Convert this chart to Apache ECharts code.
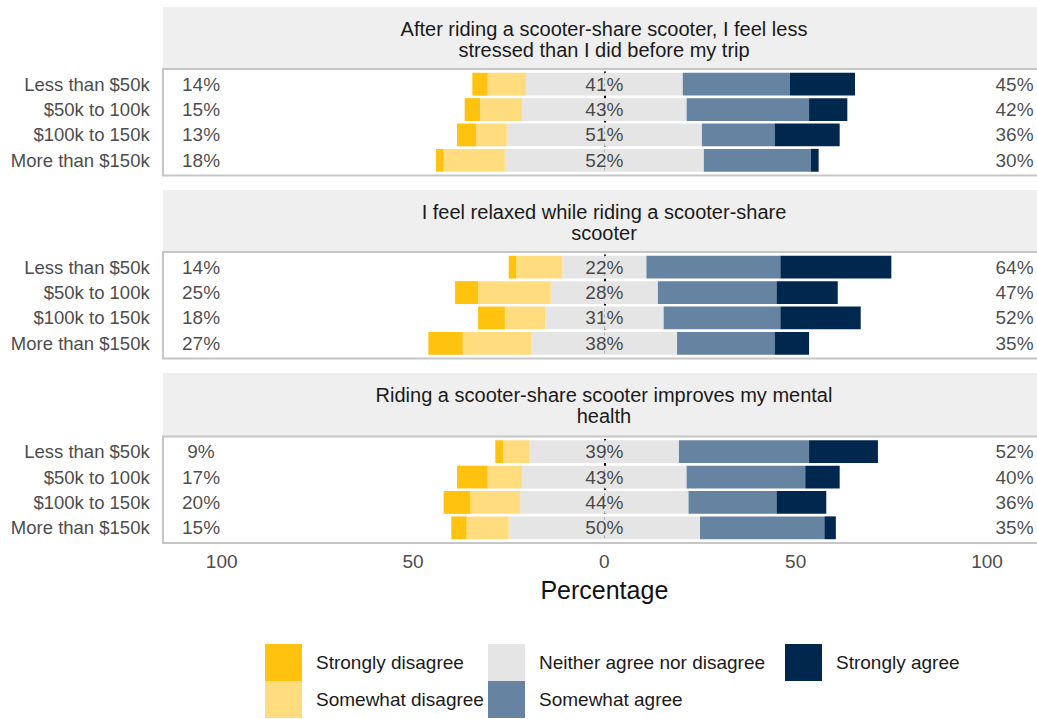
<!DOCTYPE html>
<html>
<head>
<meta charset="utf-8">
<script src="https://cdn.jsdelivr.net/npm/echarts@6/dist/echarts.min.js"></script>
<style>html,body{margin:0;padding:0;background:#fff}#chart{width:1037px;height:719px}</style>
</head>
<body>
<div id="chart"></div>
<script>
const categories = ['Less than $50k', '$50k to 100k', '$100k to 150k', 'More than $150k'];
const statements = [
  'After riding a scooter-share scooter, I feel less\nstressed than I did before my trip',
  'I feel relaxed while riding a scooter-share\nscooter',
  'Riding a scooter-share scooter improves my mental\nhealth'
];
const stronglyDisagree = [[4, 4, 5, 2], [2, 6, 7, 9], [2, 8, 7, 4]];
const somewhatDisagree = [[10, 11, 8, 16], [12, 19, 10.5, 18], [7, 9, 13, 11]];
const neitherNor = [[41, 43, 51, 52], [22, 28, 31, 38], [39, 43, 44, 50]];
const somewhatAgree = [[28, 32, 19, 28], [35, 31, 30.5, 25.5], [34, 31, 23, 32.5]];
const stronglyAgree = [[17, 10, 17, 2], [29, 16, 21, 9], [18, 9, 13, 3]];
const disagreeLabels = [['14%', '15%', '13%', '18%'], ['14%', '25%', '18%', '27%'], ['9%', '17%', '20%', '15%']];
const neutralLabels = [['41%', '43%', '51%', '52%'], ['22%', '28%', '31%', '38%'], ['39%', '43%', '44%', '50%']];
const agreeLabels = [['45%', '42%', '36%', '30%'], ['64%', '47%', '52%', '35%'], ['52%', '40%', '36%', '35%']];
const xTicks = [-100, -50, 0, 50, 100];
const xTickLabels = ['100', '50', '0', '50', '100'];
const levelNames = ['Strongly disagree', 'Somewhat disagree', 'Neither agree nor disagree', 'Somewhat agree', 'Strongly agree'];

const colors = {
  sd: '#FFC20E', swd: '#FFDC7E', neu: '#E5E5E5', swa: '#6783A2', sa: '#00284F'
};
const FONT = 'Liberation Sans, Arial, sans-serif';
const panelTops = [69, 252, 436.5];
const panelH = 106.5;
const stripTops = [7, 190, 373];
const panelLeft = 163, panelW = 883;
const gridLeft = 221.7, gridW = 765.3;
const labelLeftX = -105.4, labelRightX = 107.2;

const chart = echarts.init(document.getElementById('chart'), null, {renderer: 'svg'});

const grids = [], xAxes = [], yAxes = [], series = [], graphics = [];
for (let g = 0; g < 3; g++) {
  grids.push({left: gridLeft, width: gridW, top: panelTops[g] + 2.5, height: panelH - 5});
  const last = g === 2;
  xAxes.push({
    type: 'value', gridIndex: g, min: -100, max: 100, interval: 25,
    axisLine: {show: false}, axisTick: {show: false}, splitLine: {show: false},
    axisLabel: {
      show: last, margin: 11, color: '#4d4d4d', fontSize: 19, fontFamily: FONT,
      formatter: v => { const i = xTicks.indexOf(v); return i >= 0 ? xTickLabels[i] : ''; }
    },
    name: last ? 'Percentage' : '', nameLocation: 'middle', nameGap: 37,
    nameTextStyle: {fontSize: 25, color: '#111', fontFamily: FONT}
  });
  yAxes.push({
    type: 'category', gridIndex: g, data: categories, inverse: true,
    axisLine: {show: false}, axisTick: {show: false}, splitLine: {show: false},
    axisLabel: {margin: 72, color: '#4d4d4d', fontSize: 18.5, fontFamily: FONT}
  });
  const stack = 'st' + g;
  const mk = (name, data, color) => ({
    type: 'bar', name, stack, xAxisIndex: g, yAxisIndex: g, data, barWidth: '90%',
    itemStyle: {color}, z: 2, silent: true, animation: false
  });
  series.push(mk(levelNames[2], neitherNor[g].map(v => -v / 2), colors.neu));
  series.push(mk(levelNames[1], somewhatDisagree[g].map(v => -v), colors.swd));
  series.push(mk(levelNames[0], stronglyDisagree[g].map(v => -v), colors.sd));
  series.push(mk(levelNames[2], neitherNor[g].map(v => v / 2), colors.neu));
  series.push(mk(levelNames[3], somewhatAgree[g], colors.swa));
  series.push(mk(levelNames[4], stronglyAgree[g], colors.sa));
  // zero reference line
  series.push({
    type: 'scatter', xAxisIndex: g, yAxisIndex: g, data: [], z: 1, silent: true,
    markLine: {
      z: 1, symbol: 'none', silent: true, animation: false, label: {show: false},
      lineStyle: {color: '#000', type: [3, 3], width: 2},
      data: [{xAxis: 0}]
    }
  });
  const lbl = (x, texts) => ({
    type: 'scatter', xAxisIndex: g, yAxisIndex: g, z: 4, silent: true, clip: false,
    symbolSize: 0, animation: false,
    data: categories.map(c => [x, c]),
    label: {show: true, position: 'inside', color: '#1a1a1a', fontSize: 19, fontFamily: FONT,
      formatter: p => texts[p.dataIndex]}
  });
  series.push(lbl(labelLeftX, disagreeLabels[g]));
  series.push(lbl(0, neutralLabels[g]));
  series.push(lbl(labelRightX, agreeLabels[g]));

  graphics.push({type: 'rect', z: -10, silent: true,
    shape: {x: panelLeft, y: stripTops[g], width: panelW, height: panelTops[g] - stripTops[g]},
    style: {fill: '#EFEFEF'}});
  graphics.push({type: 'rect', z: -9, silent: true,
    shape: {x: panelLeft, y: panelTops[g], width: panelW, height: panelH},
    style: {fill: 'none', stroke: '#C6C6C6', lineWidth: 2}});
  graphics.push({type: 'text', z: -8, silent: true,
    x: 604, y: (stripTops[g] + panelTops[g]) / 2 + 1,
    style: {text: statements[g], align: 'center', verticalAlign: 'middle', textAlign: 'center',
      textVerticalAlign: 'middle', fontSize: 20, fontFamily: FONT, lineHeight: 21, fill: '#1a1a1a'}});
}

const legendPos = [[265, 644], [265, 681], [488, 644], [488, 681], [785, 644]];
const legends = levelNames.map((n, i) => ({
  orient: 'horizontal', itemGap: 0, itemWidth: 37, itemHeight: 37, icon: 'rect',
  left: legendPos[i][0], top: legendPos[i][1], padding: 0,
  selectedMode: false, data: [n],
  textStyle: {fontSize: 19, color: '#1a1a1a', fontFamily: FONT, padding: [0, 0, 0, 9]}
}));

chart.setOption({
  animation: false,
  backgroundColor: '#fff',
  color: [colors.sd, colors.swd, colors.neu, colors.swa, colors.sa],
  grid: grids, xAxis: xAxes, yAxis: yAxes, series,
  graphic: graphics,
  legend: legends
});
</script>
</body>
</html>
